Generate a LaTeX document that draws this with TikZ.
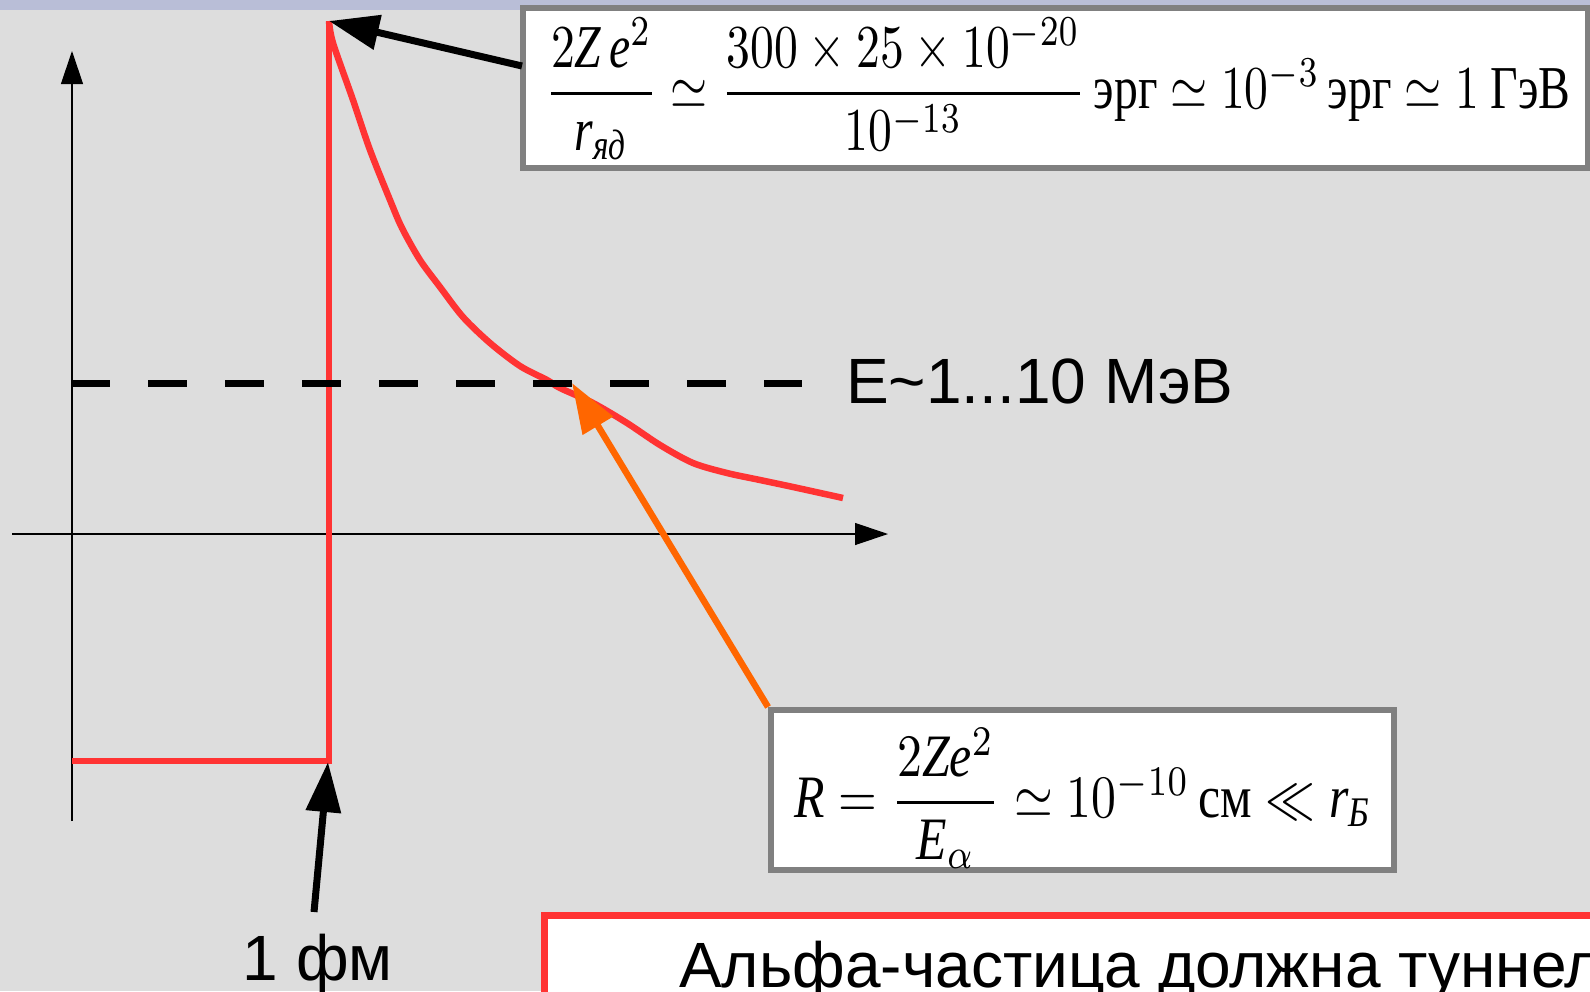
\documentclass[tikz,border=0pt]{standalone}
\usepackage{fontspec}
\usepackage{amsmath}
\usepackage{graphicx}
\setmainfont{Liberation Serif}
\newfontfamily\arialf{Liberation Sans}
\usetikzlibrary{arrows.meta}
\definecolor{bgc}{RGB}{221,221,221}
\definecolor{bandc}{RGB}{185,190,215}
\definecolor{redc}{RGB}{255,51,51}
\definecolor{orangec}{RGB}{255,102,0}
\definecolor{grayc}{RGB}{128,128,128}
\begin{document}
\begin{tikzpicture}[x=1pt,y=-1pt,
  axisline/.style={line width=1.2pt, black, -{Triangle[length=33pt,width=22pt]}},
  pot/.style={line width=6.5pt, redc},
  bigarrow/.style={line width=7pt, -{Triangle[length=50pt,width=34pt]}},
  formbox/.style={draw=grayc, line width=6pt, fill=white, inner sep=0pt},
  sanslabel/.style={font=\arialf\fontsize{64}{72}\selectfont, inner sep=0pt},
  dashline/.style={line width=7pt, black, dash pattern=on 38.5pt off 38.5pt}]
\useasboundingbox (0,0) rectangle (1590,991);
\clip (0,0) rectangle (1590,991);
\fill[bgc] (0,0) rectangle (1590,991);
\fill[bandc] (0,0) rectangle (1590,9.7);
% axes
\coordinate (yb) at (72,821);
\coordinate (yt) at (72,51);
\coordinate (xl) at (12,534);
\coordinate (xr) at (888,534);
\draw[axisline] (yb) -- (yt);
\draw[axisline] (xl) -- (xr);
% potential
\coordinate (wellL) at (72,761);
\coordinate (wellR) at (329,761);
\coordinate (peak) at (329,21);
\draw[pot] (wellL) -- (wellR) -- (peak);
\draw[pot] plot[smooth, tension=0.5] coordinates {(329,21) (333,43) (353,100) (370,150) (390,200) (402,228) (420,260) (440,287) (463,317) (490,343) (520,366) (547,380) (560,388) (593,403) (627,423) (660,445) (693,463) (727,473) (760,480) (793,487) (843,498)};
% energy level
\coordinate (dstart) at (71,383);
\coordinate (dend) at (802,383);
\draw[dashline] (dstart) -- (dend);
\node[sanslabel, anchor=base west] (elabel) at (846,403) {E\textasciitilde1...10 МэВ};
% top formula box
\node[formbox, minimum width=1065pt, minimum height=160pt] (topbox) at (1055,88) {};
\node[inner sep=0pt] (f1) at (1058,89) {\resizebox*{1025pt}{142pt}{$\dfrac{2\mathit{Z}\,\mathit{e}^{2}}{\mathit{r}_{\textit{яд}}}\simeq\dfrac{300\times 25\times 10^{-20}}{10^{-13}}\,\text{эрг}\simeq 10^{-3}\,\text{эрг}\simeq 1\ \text{ГэВ}$}};
\coordinate (toptail) at (522,66);
\draw[bigarrow] (toptail) -- (peak);
% bottom formula box
\node[formbox, minimum width=623pt, minimum height=160pt] (rbox) at (1082.5,790) {};
\node[inner sep=0pt] (f2) at (1083,798) {\resizebox*{577pt}{140pt}{$\mathit{R}=\dfrac{2\mathit{Z}\mathit{e}^{2}}{\mathit{E}_{\alpha}}\simeq 10^{-10}\,\text{см}\ll \mathit{r}_{\textit{Б}}$}};
\coordinate (cross) at (572,383);
\draw[bigarrow, orangec, line width=6.5pt] (rbox.north west) -- (cross);
% 1 fm
\node[sanslabel, anchor=base] (fm) at (318,980) {1 фм};
\coordinate (fmtail) at (314,912);
\coordinate (fmtip) at (328,762);
\draw[bigarrow] (fmtail) -- (fmtip);
% bottom red box
\node[draw=redc, line width=7pt, fill=white, minimum width=1100pt, minimum height=200pt, anchor=north west, inner sep=0pt] (tbox) at (541,912) {};
\node[sanslabel, anchor=base west] (ttext) at (679,987) {Альфа-частица должна туннел};
\end{tikzpicture}
\end{document}
